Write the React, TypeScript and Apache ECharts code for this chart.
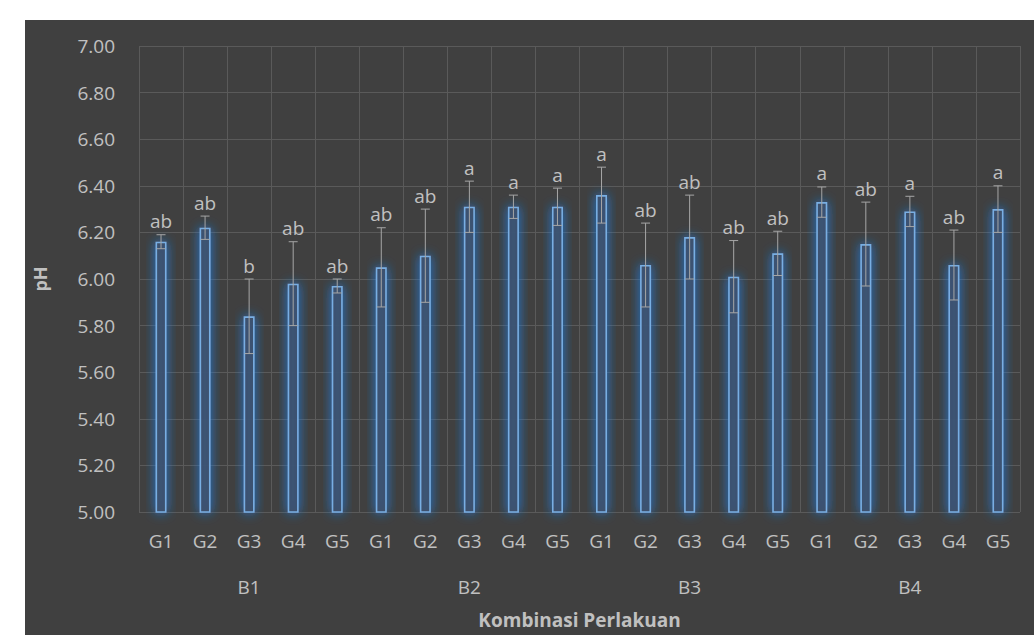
import React, { useEffect, useRef } from "react";
import * as echarts from "echarts";

const groups = ["B1", "B2", "B3", "B4"];
const treatments = ["G1", "G2", "G3", "G4", "G5"];
const categories = groups.flatMap((g) => treatments.map((t) => t));
const means = [
  6.16, 6.22, 5.84, 5.98, 5.97,
  6.05, 6.1, 6.31, 6.31, 6.31,
  6.36, 6.06, 6.18, 6.01, 6.11,
  6.33, 6.15, 6.29, 6.06, 6.3,
];
const errors = [
  0.03, 0.05, 0.16, 0.18, 0.03,
  0.17, 0.2, 0.11, 0.05, 0.08,
  0.12, 0.18, 0.18, 0.155, 0.095,
  0.065, 0.18, 0.065, 0.15, 0.1,
];
const letters = [
  "ab", "ab", "b", "ab", "ab",
  "ab", "ab", "a", "a", "a",
  "a", "ab", "ab", "ab", "ab",
  "a", "ab", "a", "ab", "a",
];
const yTicks = { min: 5, max: 7, interval: 0.2 };

const FONT = "'Open Sans', 'Noto Sans', sans-serif";
const TEXT = "#c0c0c0";
const GRID = "#5a5a5a";
const FS = 19;

export default function App() {
  const ref = useRef<HTMLDivElement>(null);
  useEffect(() => {
    if (!ref.current) return;
    const chart = echarts.init(ref.current, null, { renderer: "svg" });
    const errData = means.map((m, i) => [i, m - errors[i], m + errors[i], i]);
    chart.setOption({
      animation: false,
      backgroundColor: "#ffffff",
      graphic: [
        {
          type: "rect",
          z: -10,
          silent: true,
          shape: { x: 25, y: 20, width: 1009, height: 615 },
          style: { fill: "#404040" },
        },
      ],
      grid: { left: 139, right: 14, top: 46, bottom: 123, containLabel: false },
      xAxis: [
        {
          type: "category",
          data: categories,
          axisLine: { show: false },
          axisTick: { show: false },
          axisLabel: { color: TEXT, fontSize: FS, fontFamily: FONT, margin: 19, interval: 0 },
          splitLine: { show: true, interval: 0, lineStyle: { color: GRID, width: 1 } },
        },
        {
          type: "category",
          data: groups,
          position: "bottom",
          offset: 46,
          axisLine: { show: false },
          axisTick: { show: false },
          axisLabel: { color: TEXT, fontSize: FS, fontFamily: FONT, margin: 19 },
          name: "Kombinasi Perlakuan",
          nameLocation: "middle",
          nameGap: 52,
          nameTextStyle: { color: TEXT, fontSize: FS, fontWeight: "bold", fontFamily: FONT },
        },
      ],
      yAxis: {
        type: "value",
        min: yTicks.min,
        max: yTicks.max,
        interval: yTicks.interval,
        axisLine: { show: false },
        axisTick: { show: false },
        axisLabel: {
          color: TEXT,
          fontSize: FS,
          fontFamily: FONT,
          margin: 24,
          formatter: (v: number) => v.toFixed(2),
        },
        splitLine: { show: true, lineStyle: { color: GRID, width: 1 } },
        name: "pH",
        nameLocation: "middle",
        nameGap: 90,
        nameRotate: 90,
        nameTextStyle: { color: TEXT, fontSize: 18, fontWeight: "bold", fontFamily: FONT },
      },
      series: [
        {
          type: "bar",
          xAxisIndex: 0,
          data: means,
          barWidth: 11,
          itemStyle: {
            color: "rgba(62,80,104,0.9)",
            borderColor: "#78aee3",
            borderWidth: 1.6,
            shadowBlur: 12,
            shadowColor: "rgba(30,125,225,1)",
          },
        },
        {
          type: "custom",
          xAxisIndex: 0,
          data: errData,
          z: 5,
          renderItem: (params: any, api: any) => {
            const idx = api.value(0);
            const lo = api.coord([idx, api.value(1)]);
            const hi = api.coord([idx, api.value(2)]);
            const hw = 4.5;
            const st = { stroke: "#a6a6a6", lineWidth: 1 };
            return {
              type: "group",
              children: [
                { type: "line", shape: { x1: hi[0], y1: hi[1], x2: lo[0], y2: lo[1] }, style: st },
                { type: "line", shape: { x1: hi[0] - hw, y1: hi[1], x2: hi[0] + hw, y2: hi[1] }, style: st },
                { type: "line", shape: { x1: lo[0] - hw, y1: lo[1], x2: lo[0] + hw, y2: lo[1] }, style: st },
                {
                  type: "text",
                  style: {
                    text: letters[api.value(3)],
                    x: hi[0],
                    y: hi[1] - 4,
                    align: "center",
                    verticalAlign: "bottom",
                    fill: TEXT,
                    fontSize: FS,
                    fontFamily: FONT,
                  },
                },
              ],
            };
          },
        },
      ],
    });
    return () => chart.dispose();
  }, []);
  return (
    <div
      ref={ref}
      style={{ position: "fixed", left: 0, top: 0, width: 1034, height: 635 }}
    />
  );
}
